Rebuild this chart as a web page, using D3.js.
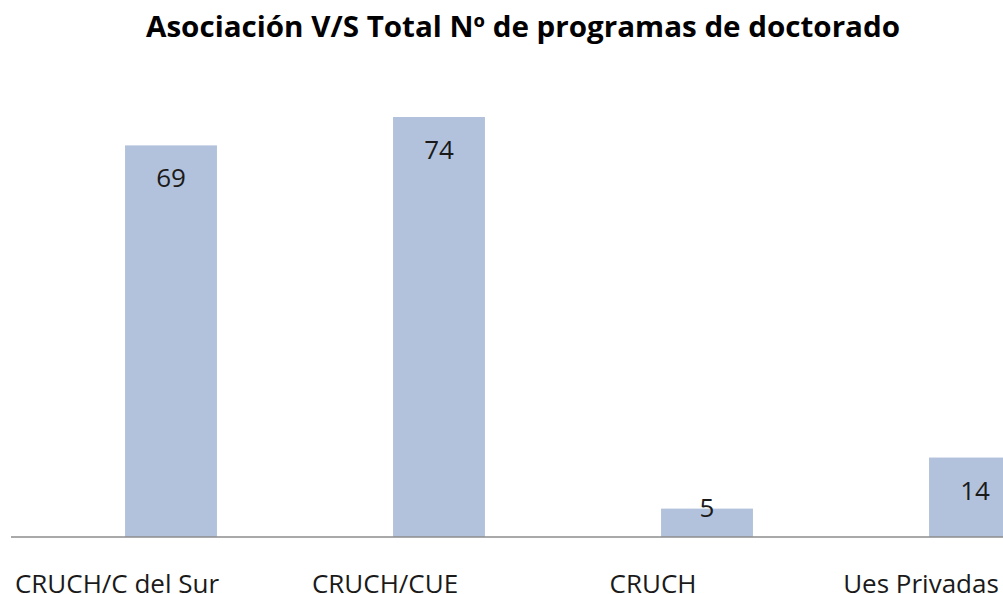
<!DOCTYPE html>
<html>
<head>
<meta charset="utf-8">
<script src="https://cdn.jsdelivr.net/npm/d3@7"></script>
<style>
  body { margin: 0; background: #fff; }
  svg { display: block; font-family: "Open Sans", "Noto Sans", sans-serif; }
</style>
</head>
<body>
<svg id="chart"></svg>
<script>
// chart data
const categories = ['CRUCH/C del Sur', 'CRUCH/CUE', 'CRUCH', 'Ues Privadas'];
const values = [69, 74, 5, 14];
const chartTitle = 'Asociación V/S Total Nº de programas de doctorado';

const width = 1003, height = 594;
const baseY = 537, topY = 117;

const svg = d3.select('#chart')
    .attr('width', width)
    .attr('height', height);

// band scale runs past the right edge, like the cropped original
const x = d3.scaleBand()
    .domain(categories)
    .range([37, 37 + 268 * categories.length])
    .paddingInner(0.657)
    .paddingOuter(0.3285);

const y = d3.scaleLinear()
    .domain([0, d3.max(values)])
    .range([baseY, topY]);

const data = categories.map((c, i) => ({ category: c, value: values[i] }));

// title
svg.append('text')
    .attr('x', 146)
    .attr('y', 37)
    .attr('textLength', 754)
    .attr('lengthAdjust', 'spacingAndGlyphs')
    .style('font-size', '28px')
    .style('font-weight', 'bold')
    .attr('fill', '#000')
    .text(chartTitle);

// bars
svg.selectAll('.bar')
    .data(data)
    .join('rect')
    .attr('class', 'bar')
    .attr('x', d => x(d.category))
    .attr('y', d => y(d.value))
    .attr('width', x.bandwidth())
    .attr('height', d => baseY - y(d.value))
    .attr('fill', '#b3c2dc');

// value labels inside the bar top
svg.selectAll('.val')
    .data(data)
    .join('text')
    .attr('class', 'val')
    .attr('x', d => x(d.category) + x.bandwidth() / 2)
    .attr('y', d => {
        const top = y(d.value);
        return baseY - top > 40 ? top + 42 : top + 8;
    })
    .attr('text-anchor', 'middle')
    .style('font-size', '26px')
    .attr('fill', '#1a1a1a')
    .text(d => d.value);

// x axis (line only, labels shifted left as in the original)
const xAxisG = svg.append('g')
    .attr('transform', `translate(0,${baseY})`);
xAxisG.append('line')
    .attr('x1', 11)
    .attr('x2', width)
    .attr('stroke', '#8c8c8c')
    .attr('stroke-width', 1.5);

xAxisG.selectAll('.cat')
    .data(categories)
    .join('text')
    .attr('class', 'cat')
    .attr('x', d => x(d) + x.bandwidth() / 2 - 54)
    .attr('y', 56)
    .attr('text-anchor', 'middle')
    .style('font-size', '26px')
    .attr('fill', '#1a1a1a')
    .text(d => d);
</script>
</body>
</html>
